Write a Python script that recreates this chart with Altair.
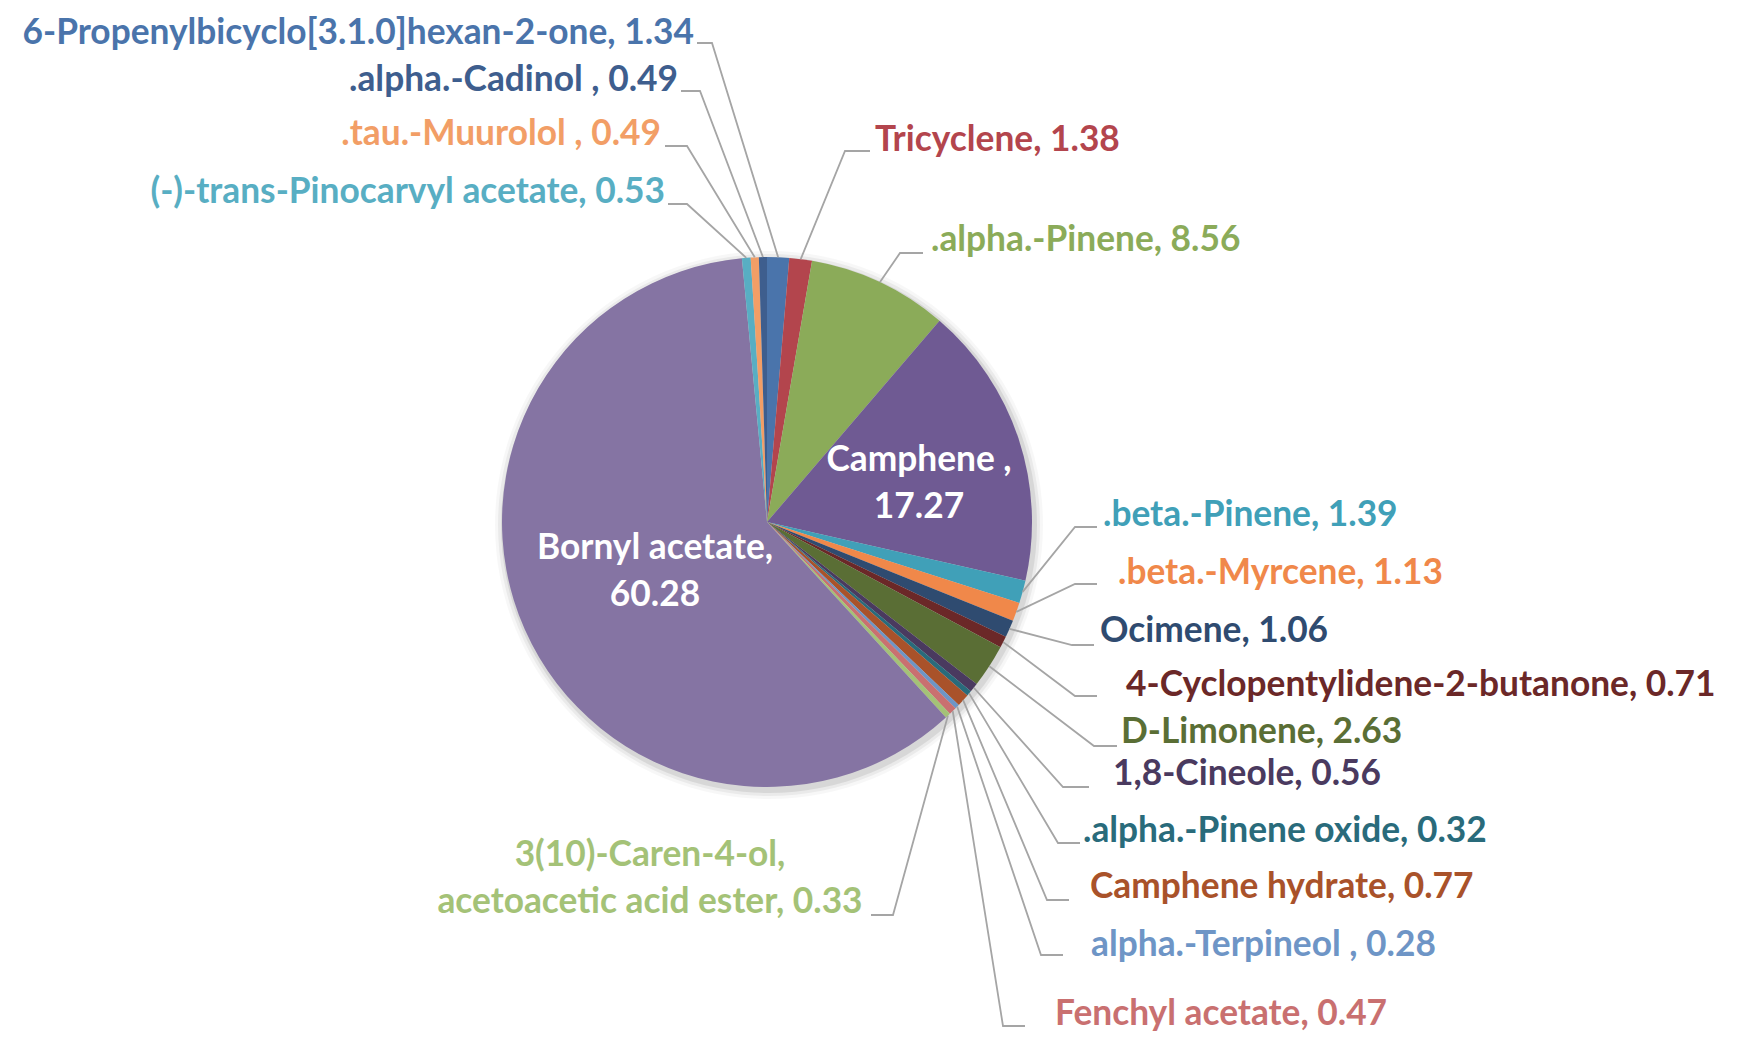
import math
import altair as alt
import pandas as pd

# ---------------- data ----------------
compounds = [
    "6-Propenylbicyclo[3.1.0]hexan-2-one", "Tricyclene", ".alpha.-Pinene", "Camphene ",
    ".beta.-Pinene", ".beta.-Myrcene", "Ocimene", "4-Cyclopentylidene-2-butanone",
    "D-Limonene", "1,8-Cineole", ".alpha.-Pinene oxide", "Camphene hydrate",
    "alpha.-Terpineol ", "Fenchyl acetate", "3(10)-Caren-4-ol, acetoacetic acid ester",
    "Bornyl acetate", "(-)-trans-Pinocarvyl acetate", ".tau.-Muurolol ", ".alpha.-Cadinol ",
]
values = [1.34, 1.38, 8.56, 17.27, 1.39, 1.13, 1.06, 0.71, 2.63, 0.56, 0.32, 0.77,
          0.28, 0.47, 0.33, 60.28, 0.53, 0.49, 0.49]
colors = ["#4A74AB", "#B3454D", "#8BAB59", "#6F5A93", "#40A0B8", "#F0884A", "#2F4B70",
          "#6B2828", "#5A6E35", "#4A3A5F", "#296B7B", "#A9522A", "#6E95C6", "#C97070",
          "#A4C277", "#8574A3", "#58AEC3", "#F29E66", "#3E5E8E"]
wrapped = ["Camphene ", "Bornyl acetate", "3(10)-Caren-4-ol, acetoacetic acid ester"]

# ---------------- layout (page pixels) ----------------
CX, CY, R = 767, 522, 265
FONT, FS, LH = "Lato", 35.3, 47
# compound: (text x, text y, align, elbow x, end x, leader y)
outside = {
    "6-Propenylbicyclo[3.1.0]hexan-2-one": (694, 33, "right", 712, 697, 43),
    ".alpha.-Cadinol ": (678, 80, "right", 700, 681, 91),
    ".tau.-Muurolol ": (661, 134, "right", 687, 665, 146),
    "(-)-trans-Pinocarvyl acetate": (665, 192, "right", 687, 668, 204),
    "Tricyclene": (875, 140, "left", 845, 870, 151),
    ".alpha.-Pinene": (931, 240, "left", 900, 923, 253),
    ".beta.-Pinene": (1103, 515, "left", 1075, 1097, 527),
    ".beta.-Myrcene": (1118, 573, "left", 1075, 1097, 584),
    "Ocimene": (1100, 631, "left", 1072, 1094, 645),
    "4-Cyclopentylidene-2-butanone": (1126, 685, "left", 1075, 1097, 696),
    "D-Limonene": (1121, 732, "left", 1094, 1117, 746),
    "1,8-Cineole": (1113, 774, "left", 1063, 1089, 787),
    ".alpha.-Pinene oxide": (1083, 831, "left", 1058, 1080, 843),
    "Camphene hydrate": (1090, 887, "left", 1047, 1069, 900),
    "alpha.-Terpineol ": (1091, 945, "left", 1041, 1063, 955),
    "Fenchyl acetate": (1055, 1014, "left", 1003, 1025, 1026),
    "3(10)-Caren-4-ol, acetoacetic acid ester": (650, 855, "center", 893, 871, 915),
}
inside_pos = {"Camphene ": (919, 460), "Bornyl acetate": (655, 548)}

W, H = 1721, 1026

# ---------------- tables ----------------
total = sum(values)
rows, line_rows = [], []
cum = 0.0
for i, (c, v) in enumerate(zip(compounds, values)):
    mid = 2 * math.pi * (cum + v / 2) / total
    cum += v
    label = f"{c}, {v:.2f}"
    if c in wrapped:
        label = label.replace(", ", ",\n", 1)
    rows.append({"idx": i, "compound": c, "value": v, "label": label})
    if c in outside:
        tx, ty, al, ex, nx, ly = outside[c]
        px = CX + R * math.sin(mid)
        py = CY - R * math.cos(mid)
        for k, (xx, yy) in enumerate([(px, py), (ex, ly), (nx, ly)]):
            line_rows.append({"compound": c, "pt": k, "x": xx, "y": yy})
df = pd.DataFrame(rows)
lines_df = pd.DataFrame(line_rows)

lab_rows = []
for r in rows:
    c = r["compound"]
    if c in outside:
        tx, ty, al, *_ = outside[c]
        lab_rows.append({"compound": c, "label": r["label"], "x": tx, "y": ty, "align": al})
    elif c in inside_pos:
        tx, ty = inside_pos[c]
        lab_rows.append({"compound": c, "label": r["label"], "x": tx, "y": ty, "align": "inside"})
labs = pd.DataFrame(lab_rows)

xs = alt.Scale(domain=[8, 8 + W], range=[0, W], nice=False, zero=False)
ys = alt.Scale(domain=[8, 8 + H], reverse=True, nice=False, zero=False)
cscale = alt.Scale(domain=compounds, range=colors)

# soft shadow rings behind the pie
shadow_layers = []
for rr, op in [(R + 9, 0.03), (R + 6, 0.05), (R + 3, 0.08)]:
    shadow_layers.append(
        alt.Chart(pd.DataFrame({"a": [0]})).mark_arc(
            theta=0, theta2=2 * math.pi, outerRadius=rr, opacity=op, color="#000000"
        ).encode(x=alt.value(CX - 8 + 2), y=alt.value(CY - 8 + 3))
    )

pie = alt.Chart(df).mark_arc(outerRadius=R).encode(
    theta=alt.Theta("value:Q", stack=True),
    color=alt.Color("compound:N", scale=cscale, legend=None),
    order=alt.Order("idx:Q"),
    x=alt.value(CX - 8),
    y=alt.value(CY - 8),
)

leaders = alt.Chart(lines_df).mark_line(color="#A5A5A5", strokeWidth=1.8).encode(
    x=alt.X("x:Q", scale=xs, axis=None),
    y=alt.Y("y:Q", scale=ys, axis=None),
    detail="compound:N",
    order="pt:Q",
)

def text_layer(al, white=False):
    sub = labs[labs["align"] == al]
    mark_align = "center" if al in ("inside", "center") else al
    return alt.Chart(sub).mark_text(
        align=mark_align, baseline="middle", font=FONT, fontSize=FS, fontWeight="bold",
        lineBreak="\n", lineHeight=LH,
    ).encode(
        x=alt.X("x:Q", scale=xs, axis=None),
        y=alt.Y("y:Q", scale=ys, axis=None),
        text="label:N",
        color=alt.value("white") if white else alt.Color("compound:N", scale=cscale, legend=None),
    )

chart = alt.layer(
    *shadow_layers, pie, leaders,
    text_layer("left"), text_layer("right"), text_layer("center"), text_layer("inside", True),
).properties(
    width=W, height=H, padding=0, autosize=alt.AutoSizeParams(type="none"),
).configure_view(strokeWidth=0)

chart.save("out.html", embed_options={"renderer": "svg", "actions": False})
